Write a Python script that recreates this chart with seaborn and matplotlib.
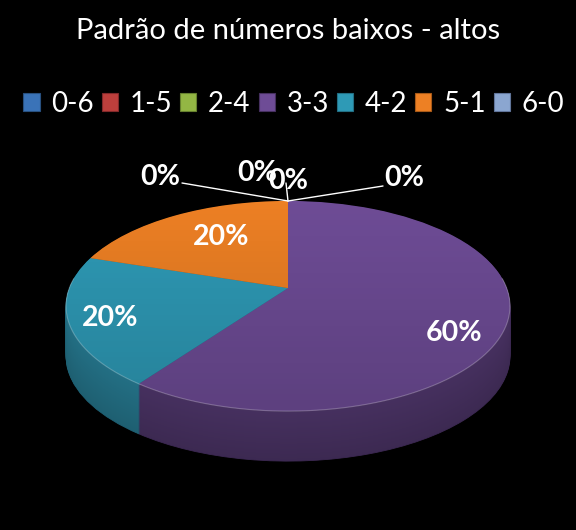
import numpy as np
import matplotlib
matplotlib.use("Agg")
import matplotlib.pyplot as plt
import seaborn as sns
from matplotlib.patches import Patch
from matplotlib.transforms import Transform

# data
categories = ["0-6", "1-5", "2-4", "3-3", "4-2", "5-1", "6-0"]
percentages = [0, 0, 0, 60, 20, 20, 0]
title_text = "Padrão de números baixos - altos"

top_colors = ["#3a73b8", "#bd3f3c", "#93b644", "#6e4c96", "#2e9ab6", "#ed8024", "#8ba6d0"]
side_colors = ["#28507f", "#82292a", "#66802f", "#46305f", "#236f84", "#a85a18", "#61759a"]

# label anchor points in pixels, same order as categories
label_xy = [(404, 178), (288, 181), (257, 173), (454, 333), (110, 318), (221, 237), (160, 177)]
line_end = [(383, 186), (286, 183), None, None, None, None, (182, 183)]

DEPTH = 50
CX, CY = 288, 288


class TiltedDisc(Transform):
    # unit circle -> tilted disc seen in perspective, output in pixels
    input_dims = 2
    output_dims = 2
    is_separable = False
    has_inverse = False

    def __init__(self, drop=0):
        super().__init__()
        self.drop = drop

    def transform_non_affine(self, values):
        values = np.asarray(values, dtype=float)
        w = 1 + 0.1714 * values[:, 1]
        px = CX + 218.7 * values[:, 0] / w
        py = CY - 102 * values[:, 1] / w + self.drop
        return np.column_stack([px, py])


sns.set_theme(style="dark", rc={"figure.facecolor": "black", "axes.facecolor": "black"})
plt.rcParams["font.family"] = ["Lato", "DejaVu Sans"]

fig = plt.figure(figsize=(5.76, 5.30), dpi=100)
ax = fig.add_axes([0, 0, 1, 1])

# side of the disc: same pie stacked downwards
side_palette = sns.color_palette(side_colors)
for drop in range(DEPTH, 0, -1):
    shade = 0.86 + 0.14 * (DEPTH - drop) / DEPTH
    layer_colors = [tuple(c * shade for c in col) for col in side_palette]
    wedges, _ = ax.pie(percentages, startangle=90, counterclock=False, colors=layer_colors)
    for w, col in zip(wedges, layer_colors):
        w.set_transform(TiltedDisc(drop) + ax.transData)
        w.set_linewidth(0.6)
        w.set_edgecolor(col)

# top of the disc
top_wedges, _ = ax.pie(percentages, startangle=90, counterclock=False,
                       colors=sns.color_palette(top_colors),
                       wedgeprops={"linewidth": 0})
for w in top_wedges:
    w.set_transform(TiltedDisc() + ax.transData)

# soft vertical shading on the top face
shade_img = np.zeros((256, 1, 4))
shade_img[:, 0, 3] = np.linspace(0.0, 0.16, 256)
for w, pct in zip(top_wedges, percentages):
    if pct > 0:
        im = ax.imshow(shade_img, extent=(60, 520, 415, 198), aspect="auto", zorder=3)
        im.set_clip_path(w)

# thin light rim along the front edge
theta = np.linspace(np.pi * 0.97, np.pi * 2.03, 200)
ax.plot(np.cos(theta), np.sin(theta), color="white", alpha=0.25, lw=0.8, zorder=4,
        transform=TiltedDisc() + ax.transData)

ax.set_aspect("auto")
ax.set_xlim(0, 576)
ax.set_ylim(530, 0)
ax.axis("off")

# leader lines and percentage labels
for pct, xy, end in zip(percentages, label_xy, line_end):
    if end is not None:
        ax.plot([288, end[0]], [201, end[1]], color="white", lw=1, zorder=5)
    ax.text(xy[0], xy[1], f"{pct}%", color="white", fontsize=20.5, fontweight="bold",
            ha="center", va="center", zorder=6)

ax.text(288, 31, title_text, color="white", fontsize=21, ha="center", va="center")

handles = [Patch(facecolor=c, edgecolor=s, linewidth=0.8, label=n)
           for c, s, n in zip(top_colors, side_colors, categories)]
ax.legend(handles=handles, loc="center", bbox_to_anchor=(0.51, 0.804), ncol=7, frameon=False,
          fontsize=20, labelcolor="white", handlelength=0.58, handleheight=0.58,
          handletextpad=0.42, columnspacing=0.29, borderpad=0)

fig.savefig("out.png", dpi=100, facecolor="black")
